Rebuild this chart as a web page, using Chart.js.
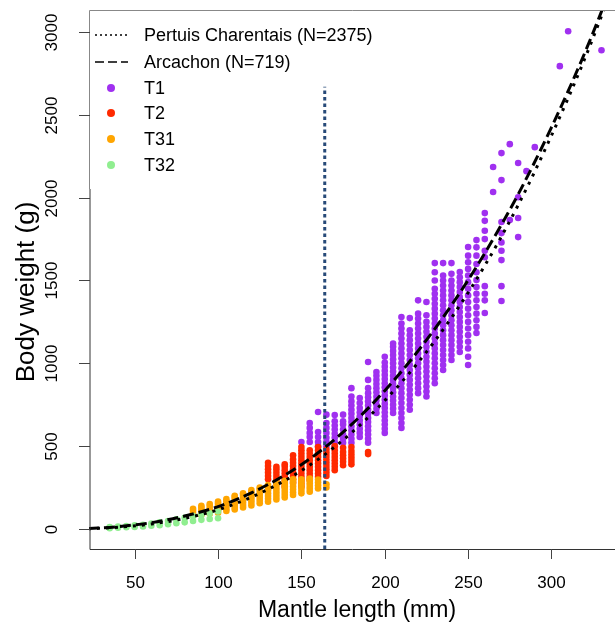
<!DOCTYPE html>
<html>
<head>
<meta charset="utf-8">
<script src="https://cdn.jsdelivr.net/npm/chart.js@4.4.1/dist/chart.umd.min.js"></script>
<style>
html, body { margin: 0; padding: 0; background: #fff; }
</style>
</head>
<body>
<canvas id="chart" width="615" height="629"></canvas>
<script>
// axis ticks
const xTicks = [50, 100, 150, 200, 250, 300];
const yTicks = [0, 500, 1000, 1500, 2000, 2500, 3000];

// fitted length-weight curves
const curveLength = [22, 40, 60, 80, 100, 120, 140, 160, 180, 200, 220, 240, 260, 280, 300, 320, 340];
const pertuisWeight = [1, 10, 30, 64, 116, 192, 292, 420, 580, 775, 1005, 1275, 1590, 1955, 2375, 2840, 3360];
const arcachonWeight = [2, 14, 38, 78, 135, 218, 325, 460, 630, 835, 1075, 1350, 1665, 2020, 2425, 2875, 3380];

// vertical cut-off line
const cutoffLength = 164;
const cutoffWeight = [-121, 2670];

// observations: [mantle length, [body weights]]
const t32 = [
    [35, [5, 12]], [40, [8, 15]], [45, [10, 18]], [50, [12, 22]],
    [55, [15, 25]], [60, [20, 32]], [65, [22, 40]], [70, [28, 48]],
    [75, [35, 58]], [80, [40, 68]], [85, [48, 78]], [90, [55, 88]],
    [95, [60, 95]], [100, [65, 105]]
];

const t31 = [
    [85, [80, 95, 110, 122]],
    [90, [85, 100, 115, 130, 140]],
    [95, [92, 108, 122, 138, 150]],
    [100, [98, 112, 128, 142, 155, 165]],
    [105, [108, 122, 138, 152, 166, 180]],
    [110, [118, 133, 148, 163, 178, 192, 200]],
    [115, [130, 145, 160, 175, 190, 205, 215]],
    [120, [142, 158, 174, 190, 206, 222, 235]],
    [125, [155, 172, 189, 206, 223, 240, 250]],
    [130, [165, 182, 199, 216, 233, 250, 265]],
    [135, [178, 195, 212, 229, 246, 263, 280]],
    [140, [190, 207, 224, 241, 258, 275, 290]],
    [145, [205, 222, 239, 256, 273, 290, 300]],
    [150, [215, 232, 249, 266, 283, 300]],
    [155, [225, 242, 259, 276, 293, 305]],
    [160, [245, 262, 280, 298]],
    [165, [250, 270]]
];

const t2 = [
    [130, [300, 320, 340, 360, 380, 400]],
    [135, [280, 300, 320, 340, 360, 375]],
    [140, [255, 275, 295, 315, 335, 355, 375, 390]],
    [145, [280, 300, 320, 340, 360, 380, 400, 420, 445]],
    [150, [255, 275, 295, 315, 335, 355, 375, 395, 415, 435, 455, 475, 495]],
    [155, [295, 315, 335, 355, 375, 395, 415, 435, 455, 475]],
    [160, [315, 335, 355, 375, 395, 415, 435, 455, 475, 495]],
    [165, [320, 340, 360, 380, 400, 420, 440, 460, 480]],
    [170, [355, 375, 395, 415, 435, 455, 475, 500]],
    [175, [385, 405, 425, 445, 465, 490]],
    [180, [390, 410, 430, 450, 470, 495]],
    [190, [452, 465]]
];

const t1 = [
    [150, [525]],
    [155, [525, 555, 580, 610, 640]],
    [160, [500, 525, 555, 585, 706]],
    [165, [500, 525, 550, 580, 610, 640, 690]],
    [170, [500, 525, 550, 575, 600, 625, 650, 688]],
    [175, [520, 545, 570, 600, 630, 650, 690]],
    [180, [520, 545, 570, 595, 620, 645, 670, 695, 720, 745, 770, 800, 850]],
    [185, [555, 580, 605, 630, 655, 680, 705, 730, 760, 790]],
    [190, [520, 545, 570, 595, 620, 645, 670, 695, 720, 745, 770, 795, 820, 850, 900, 1008]],
    [195, [700, 725, 750, 775, 800, 825, 850, 875, 900, 925, 948]],
    [200, [580, 605, 630, 655, 680, 705, 730, 755, 780, 805, 830, 855, 880, 905, 930, 955, 980, 1005, 1040]],
    [205, [700, 725, 750, 775, 800, 825, 850, 875, 900, 925, 950, 975, 1000, 1025, 1050, 1075, 1100, 1120]],
    [210, [610, 640, 670, 700, 730, 760, 790, 820, 850, 880, 910, 940, 970, 1000, 1030, 1060, 1090, 1120, 1150, 1180, 1210, 1240, 1280]],
    [215, [720, 750, 780, 810, 840, 870, 900, 930, 960, 990, 1020, 1050, 1080, 1110, 1140, 1170, 1200, 1273]],
    [220, [820, 850, 880, 910, 940, 970, 1000, 1030, 1060, 1090, 1120, 1150, 1180, 1210, 1240, 1270, 1300, 1380]],
    [225, [800, 830, 860, 890, 920, 950, 980, 1010, 1040, 1070, 1100, 1130, 1160, 1190, 1220, 1250, 1290, 1370]],
    [230, [880, 910, 940, 970, 1000, 1030, 1060, 1090, 1120, 1150, 1180, 1210, 1240, 1270, 1300, 1330, 1360, 1390, 1420, 1450, 1500, 1550, 1605]],
    [235, [960, 990, 1020, 1050, 1080, 1110, 1140, 1170, 1200, 1230, 1260, 1290, 1320, 1350, 1380, 1410, 1440, 1470, 1500, 1530, 1605]],
    [240, [1020, 1050, 1080, 1110, 1140, 1170, 1200, 1230, 1260, 1290, 1320, 1350, 1380, 1410, 1440, 1470, 1500, 1540, 1605]],
    [245, [1068, 1100, 1130, 1160, 1190, 1220, 1250, 1280, 1310, 1340, 1370, 1400, 1430, 1460, 1490, 1520, 1551]],
    [250, [990, 1040, 1090, 1130, 1170, 1210, 1250, 1290, 1330, 1370, 1410, 1450, 1490, 1530, 1570, 1610, 1650, 1702]],
    [255, [1183, 1220, 1260, 1300, 1340, 1380, 1420, 1460, 1503, 1550, 1600, 1650, 1700, 1744]],
    [260, [1304, 1380, 1420, 1466, 1640, 1680, 1750, 1800, 1860, 1907]],
    [265, [2034, 2185]],
    [270, [1376, 1466, 1623, 1680, 1730, 1786, 1853, 2106, 2269]],
    [275, [1865, 2323]],
    [280, [1762, 1877, 2003, 2209]],
    [285, [2160]],
    [290, [2305]],
    [305, [2794]],
    [310, [3005]],
    [330, [2890]]
];

const legendLabels = ['Pertuis Charentais (N=2375)', 'Arcachon (N=719)', 'T1', 'T2', 'T31', 'T32'];
const groupColors = ['#a030f0', '#ff2a00', '#ffa500', '#90ee90'];

const FONT = '"Liberation Sans", Arial, sans-serif';

function toPoints(cols) {
    return cols.flatMap(([len, ws]) => ws.map(w => ({ x: len, y: w })));
}

function curvePoints(ws) {
    return curveLength.map((len, i) => ({ x: len, y: ws[i] }));
}

function pointSet(label, cols, color, order) {
    return {
        label,
        data: toPoints(cols),
        backgroundColor: color,
        borderWidth: 0,
        pointRadius: 3.3,
        order
    };
}

function curveSet(label, ws, dash) {
    return {
        label,
        data: curvePoints(ws),
        showLine: true,
        borderColor: '#000',
        borderWidth: 3,
        borderDash: dash,
        borderCapStyle: 'butt',
        pointRadius: 0,
        cubicInterpolationMode: 'monotone',
        order: 0
    };
}

const frame = {
    id: 'frame',
    afterDraw(chart) {
        const { ctx, chartArea: a, scales: { x, y } } = chart;
        ctx.save();

        // box / axes lines
        ctx.lineWidth = 1;
        ctx.strokeStyle = '#888';
        ctx.beginPath();
        ctx.moveTo(89.5, 189);
        ctx.lineTo(89.5, 10.5);
        ctx.lineTo(615, 10.5);
        ctx.stroke();

        ctx.strokeStyle = '#333';
        ctx.beginPath();
        ctx.moveTo(90, 189);
        ctx.lineTo(90, a.bottom + 0.5);
        ctx.lineTo(615, a.bottom + 0.5);
        ctx.stroke();

        // x ticks
        ctx.strokeStyle = '#444';
        ctx.fillStyle = '#000';
        ctx.font = '17px ' + FONT;
        ctx.textAlign = 'center';
        ctx.textBaseline = 'middle';
        xTicks.forEach(t => {
            const px = Math.round(x.getPixelForValue(t)) + 0.5;
            ctx.beginPath();
            ctx.moveTo(px, a.bottom);
            ctx.lineTo(px, a.bottom + 10);
            ctx.stroke();
            ctx.fillText(String(t), px, 583);
        });

        // y ticks
        yTicks.forEach(t => {
            const py = Math.round(y.getPixelForValue(t)) + 0.5;
            ctx.beginPath();
            ctx.moveTo(79, py);
            ctx.lineTo(90, py);
            ctx.stroke();
            ctx.save();
            ctx.translate(52, py);
            ctx.rotate(-Math.PI / 2);
            ctx.fillText(String(t), 0, 0);
            ctx.restore();
        });

        // axis titles
        ctx.font = '23px ' + FONT;
        ctx.fillText('Mantle length (mm)', 357, 611);
        ctx.save();
        ctx.font = '26px ' + FONT;
        ctx.translate(27, 292);
        ctx.rotate(-Math.PI / 2);
        ctx.fillText('Body weight (g)', 0, 0);
        ctx.restore();

        // legend
        const rows = [35, 62, 88, 113, 139, 165];
        ctx.font = '18px ' + FONT;
        ctx.textAlign = 'left';
        ctx.strokeStyle = '#000';
        ctx.lineWidth = 1.3;
        [[2, 3], [9, 4]].forEach((dash, i) => {
            ctx.setLineDash(dash);
            ctx.beginPath();
            ctx.moveTo(95, rows[i]);
            ctx.lineTo(128, rows[i]);
            ctx.stroke();
        });
        ctx.setLineDash([]);
        groupColors.forEach((c, i) => {
            ctx.fillStyle = c;
            ctx.beginPath();
            ctx.arc(111, rows[i + 2], 4, 0, Math.PI * 2);
            ctx.fill();
        });
        ctx.fillStyle = '#000';
        legendLabels.forEach((t, i) => ctx.fillText(t, 144, rows[i] + 1));

        ctx.restore();
    }
};

new Chart(document.getElementById('chart'), {
    type: 'scatter',
    data: {
        datasets: [
            curveSet(legendLabels[0], pertuisWeight, [3, 6]),
            curveSet(legendLabels[1], arcachonWeight, [11, 5]),
            {
                label: 'cutoff',
                data: cutoffWeight.map(w => ({ x: cutoffLength, y: w })),
                showLine: true,
                borderColor: '#274a78',
                borderWidth: 3,
                borderDash: [3.5, 3],
                pointRadius: 0,
                order: 0
            },
            pointSet('T32', t32, groupColors[3], 1),
            pointSet('T31', t31, groupColors[2], 2),
            pointSet('T2', t2, groupColors[1], 3),
            pointSet('T1', t1, groupColors[0], 4)
        ]
    },
    options: {
        responsive: false,
        devicePixelRatio: 1,
        animation: false,
        layout: { padding: { left: 89, top: 11, right: 0, bottom: 80 } },
        plugins: {
            legend: { display: false },
            tooltip: { enabled: false }
        },
        scales: {
            x: { type: 'linear', display: false, min: 22.6, max: 335.7 },
            y: { type: 'linear', display: false, min: -121, max: 3127 }
        }
    },
    plugins: [frame]
});
</script>
</body>
</html>
